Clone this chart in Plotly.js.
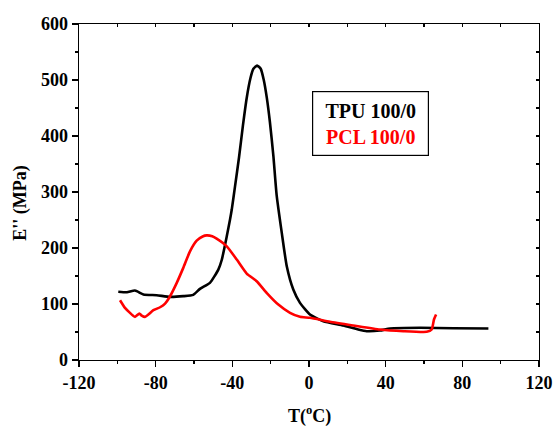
<!DOCTYPE html>
<html>
<head>
<meta charset="utf-8">
<script src="https://cdn.plot.ly/plotly-3.0.1.min.js"></script>
<style>html,body{margin:0;padding:0;background:#fff;}#chart{width:553px;height:427px;}</style>
</head>
<body>
<div id="chart"></div>
<script>
// TPU 100/0 (black)
const tpuT = [-99.5, -95, -90.8, -86.4, -79.5, -72.5, -65.6, -60.4, -56.9, -51.7, -47.3, -45.5, -42.9, -41.2, -40.3, -38.6, -36.5, -34.5, -32.5, -30.5, -29, -27.1, -25.2, -23.6, -22, -20.4, -18.6, -16.9, -14.2, -11.6, -8.2, -4.7, 0.5, 7.5, 17.9, 25.7, 30.1, 37, 42.3, 57.9, 75.3, 93.6];
const tpuE = [122, 121, 124, 117, 115.7, 112.8, 114, 116.3, 127, 137.8, 161.5, 179, 221, 250.8, 268.6, 310, 362, 418, 468, 504, 520, 526, 520, 500, 468, 425, 365, 295, 227, 167.4, 125.8, 102, 81.2, 69.3, 61.6, 54.4, 51.4, 52.6, 56.2, 57.5, 56.8, 56.2];
// PCL 100/0 (red)
const pclT = [-98.6, -96, -93.4, -90.8, -88.5, -87.3, -85.6, -83.8, -81.2, -77.7, -75.1, -72.5, -69, -65.6, -62.1, -58.6, -55.5, -53.4, -50.5, -48.2, -42.9, -37.7, -32.5, -27.3, -22.1, -16, -9.9, -4.7, 0.5, 10.9, 23.1, 37, 49.2, 61.4, 64, 65.2, 66.3];
const pclE = [106.7, 93, 84.2, 77, 83, 79.4, 77, 81.2, 88.9, 94.2, 100.8, 113.9, 137.8, 164.5, 194, 213, 220.5, 222.5, 221, 216.8, 203, 179.4, 154.4, 140.7, 120, 99, 84.2, 77.1, 75.3, 68.2, 61.6, 54.4, 51.4, 50.3, 54.4, 72.3, 81.2];
const seriesNames = ["TPU 100/0", "PCL 100/0"];
const xTicks = [-120, -80, -40, 0, 40, 80, 120];
const yTicks = [0, 100, 200, 300, 400, 500, 600];

const font = {family: "Liberation Serif, Times New Roman, serif", color: "#000"};
const tickFont = Object.assign({}, font, {size: 18, weight: "bold"});

const traces = [
  {x: tpuT, y: tpuE, name: seriesNames[0], mode: "lines", line: {color: "#000", width: 2.6, shape: "spline", smoothing: 0.5}},
  {x: pclT, y: pclE, name: seriesNames[1], mode: "lines", line: {color: "#ff0000", width: 2.6, shape: "spline", smoothing: 0.5}}
];

const axisCommon = {
  showgrid: false, zeroline: false, showline: true, linecolor: "#000", linewidth: 1.3,
  ticks: "outside", ticklen: 6, tickwidth: 1.3, tickcolor: "#000", tickfont: tickFont
};

const layout = {
  width: 553, height: 427,
  margin: {l: 79, r: 14, t: 24, b: 66.5},
  paper_bgcolor: "#fff", plot_bgcolor: "#fff",
  showlegend: false,
  xaxis: Object.assign({}, axisCommon, {
    range: [-120, 120], tickvals: xTicks, ticktext: xTicks.map(String),
    minor: {dtick: 20, tick0: 0, ticks: "outside", ticklen: 3, tickcolor: "#000", tickwidth: 1.2}
  }),
  yaxis: Object.assign({}, axisCommon, {
    range: [0, 600], tickvals: yTicks, ticktext: yTicks.map(String),
    minor: {dtick: 50, tick0: 0, ticks: "outside", ticklen: 3, tickcolor: "#000", tickwidth: 1.2}
  }),
  xaxis2: {overlaying: "x", side: "top", matches: "x", range: [-120, 120], showgrid: false, zeroline: false,
    showline: true, linecolor: "#000", linewidth: 1.3, ticks: "inside", ticklen: 3, tickwidth: 1.2, tickcolor: "#000",
    tickvals: [-100, -80, -60, -40, -20, 0, 20, 40, 60, 80, 100], showticklabels: false, anchor: "y"},
  yaxis2: {overlaying: "y", side: "right", range: [0, 600], showgrid: false, zeroline: false,
    showline: true, linecolor: "#000", linewidth: 1.3, ticks: "inside", ticklen: 3, tickwidth: 1.2, tickcolor: "#000",
    tickvals: [50, 100, 150, 200, 250, 300, 350, 400, 450, 500, 550], showticklabels: false, anchor: "x"},
  annotations: [
    {xref: "paper", yref: "paper", x: -0.128, y: 0.4655, text: "<b>E'' (MPa)</b>", textangle: -90, showarrow: false,
     font: Object.assign({}, font, {size: 18}), xanchor: "center", yanchor: "middle"},
    {xref: "paper", yref: "paper", x: 0.5, y: -0.165, text: "<b>T(<sup>o</sup>C)</b>", showarrow: false,
     font: Object.assign({}, font, {size: 18}), xanchor: "center", yanchor: "middle"},
    {xref: "x", yref: "y", x: 32.2, y: 421.6, showarrow: false, xanchor: "center", yanchor: "middle",
     text: "<b>" + seriesNames[0] + "</b><br><b><span style='color:#ff0000'>" + seriesNames[1] + "</span></b>",
     font: Object.assign({}, font, {size: 20}), bordercolor: "#000", borderwidth: 1.2, borderpad: 5,
     bgcolor: "#fff", width: 105, height: 53, align: "center"}
  ]
};

const dummy = [
  {x: [-120, 120], y: [0, 0], xaxis: "x2", yaxis: "y2", mode: "lines", line: {width: 0}, hoverinfo: "skip", showlegend: false}
];

Plotly.newPlot("chart", traces.concat(dummy), layout, {displayModeBar: false, staticPlot: true});
</script>
</body>
</html>
